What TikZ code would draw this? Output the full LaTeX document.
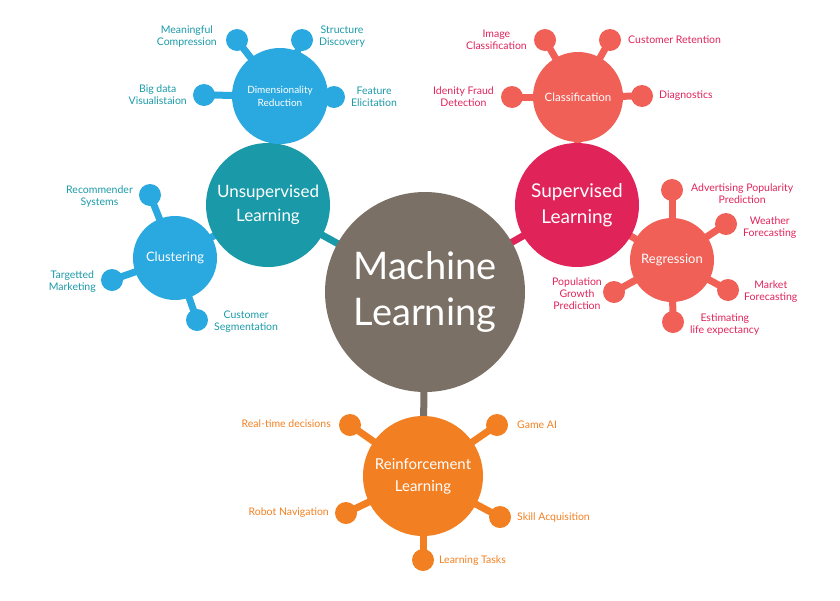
\documentclass[tikz,border=0pt]{standalone}
\usepackage{fontspec}
\setmainfont{Lato}
\usetikzlibrary{backgrounds}
\definecolor{teal}{HTML}{1A9AA8}
\definecolor{sky}{HTML}{2AA8E0}
\definecolor{crim}{HTML}{E0245A}
\definecolor{salm}{HTML}{F06057}
\definecolor{oran}{HTML}{F28022}
\definecolor{grey}{HTML}{7A7065}
\begin{document}
\begin{tikzpicture}[x=1pt,y=-1pt,
  big/.style={circle,fill=#1,text=white,inner sep=0pt,align=center},
  dot/.style={circle,fill=#1,minimum size=22pt,inner sep=0pt},
  lab/.style={font=\fontsize{10.5}{12}\selectfont,text=#1,align=center,inner sep=1pt},
  ln/.style={line width=7pt,draw=#1}]
\useasboundingbox (0,0) rectangle (840,600);
% nodes
\node[big=grey,minimum size=200pt,font=\fontsize{38}{46}\selectfont] (ml) at (425,292) {Machine\\Learning};
\node[big=teal,minimum size=124pt,font=\fontsize{17}{24}\selectfont] (ul) at (268,205) {Unsupervised\\Learning};
\node[big=sky,minimum size=96pt,font=\fontsize{10}{13}\selectfont] (dr) at (280,96) {Dimensionality\\Reduction};
\node[big=sky,minimum size=84pt,font=\fontsize{13}{15}\selectfont] (cl) at (175,258) {Clustering};
\node[big=crim,minimum size=124pt,font=\fontsize{19}{26}\selectfont] (sl) at (577,205) {Supervised\\Learning};
\node[big=salm,minimum size=90pt,font=\fontsize{11.5}{13}\selectfont] (cf) at (578,97) {Classification};
\node[big=salm,minimum size=84pt,font=\fontsize{13}{15}\selectfont] (rg) at (672,260) {Regression};
\node[big=oran,minimum size=120pt,font=\fontsize{15}{22}\selectfont] (rl) at (423,476) {Reinforcement\\Learning};
% dots
\foreach \n/\x/\y/\c in {d1/237/40/sky,d2/302/40/sky,d3/204/95/sky,d4/334/97/sky,
  c1/150/195/sky,c2/112/280/sky,c3/197/320/sky,
  f1/545/40/salm,f2/610/40/salm,f3/512/97/salm,f4/642/96/salm,
  r1/672/190/salm,r2/726/224/salm,r3/728/290/salm,r4/673/322/salm,r5/614/292/salm,
  o1/350/425/oran,o2/497/425/oran,o3/346/513/oran,o4/500/517/oran,o5/423/560/oran}
  \node[dot=\c] (\n) at (\x,\y) {};
% connectors
\begin{scope}[on background layer]
\draw[ln=teal] (ul.center) -- (ml.center);
\draw[ln=sky] (ul.center) -- (dr.center);
\draw[ln=sky] (ul.center) -- (cl.center);
\draw[ln=crim] (sl.center) -- (ml.center);
\draw[ln=salm] (sl.center) -- (cf.center);
\draw[ln=salm] (sl.center) -- (rg.center);
\draw[ln=grey] (rl.center) -- (ml.center);
\foreach \n in {d1,d2,d3,d4} \draw[ln=sky] (dr.center) -- (\n.center);
\foreach \n in {c1,c2,c3} \draw[ln=sky] (cl.center) -- (\n.center);
\foreach \n in {f1,f2,f3,f4} \draw[ln=salm] (cf.center) -- (\n.center);
\foreach \n in {r1,r2,r3,r4,r5} \draw[ln=salm] (rg.center) -- (\n.center);
\foreach \n in {o1,o2,o3,o4,o5} \draw[ln=oran] (rl.center) -- (\n.center);
\end{scope}
% labels
\node[lab=teal,anchor=east] at (218,37) {Meaningful\\Compression};
\node[lab=teal,anchor=west] at (318,37) {Structure\\Discovery};
\node[lab=teal,anchor=east] at (188,95) {Big data\\Visualistaion};
\node[lab=teal,anchor=west] at (350,97) {Feature\\Elicitation};
\node[lab=teal,anchor=east] at (134,197) {Recommender\\Systems};
\node[lab=teal,anchor=east] at (97,282) {Targetted\\Marketing};
\node[lab=teal,anchor=west] at (213,322) {Customer\\Segmentation};
\node[lab=crim,anchor=east] at (528,40) {Image\\Classification};
\node[lab=crim,anchor=west] at (627,40) {Customer Retention};
\node[lab=crim,anchor=east] at (495,97) {Idenity Fraud\\Detection};
\node[lab=crim,anchor=west] at (658,96) {Diagnostics};
\node[lab=crim,anchor=west] at (690,194) {Advertising Popularity\\Prediction};
\node[lab=crim,anchor=west] at (742,228) {Weather\\Forecasting};
\node[lab=crim,anchor=west] at (743,292) {Market\\Forecasting};
\node[lab=crim,anchor=west] at (689,325) {Estimating\\life expectancy};
\node[lab=crim] at (577,294) {Population\\Growth\\Prediction};
\node[lab=oran,anchor=east] at (332,424) {Real-time decisions};
\node[lab=oran,anchor=west] at (516,425) {Game AI};
\node[lab=oran,anchor=east] at (330,513) {Robot Navigation};
\node[lab=oran,anchor=west] at (516,518) {Skill Acquisition};
\node[lab=oran,anchor=west] at (438,561) {Learning Tasks};
\end{tikzpicture}
\end{document}
